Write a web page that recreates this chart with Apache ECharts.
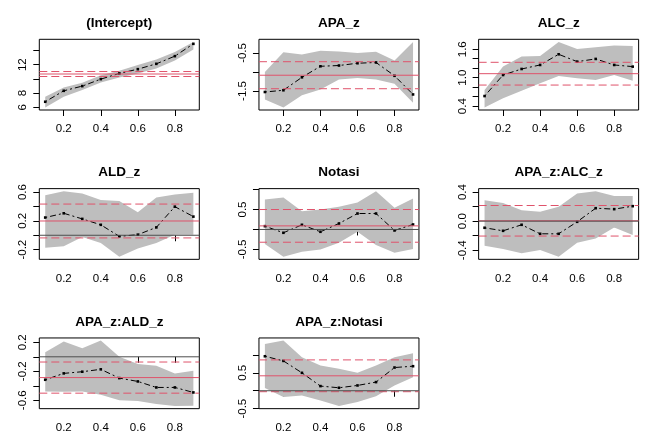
<!DOCTYPE html>
<html><head><meta charset="utf-8">
<script src="https://cdn.jsdelivr.net/npm/echarts@6/dist/echarts.min.js"></script>
<style>html,body{margin:0;padding:0;background:#fff}#c{width:659px;height:448px}</style>
</head><body><div id="c"></div>
<script>
// ---------- DATA ----------
const taus = [0.1, 0.2, 0.3, 0.4, 0.5, 0.6, 0.7, 0.8, 0.9];
const xTicks = [0.2, 0.4, 0.6, 0.8];
const titles = ["(Intercept)", "APA_z", "ALC_z", "ALD_z", "Notasi", "APA_z:ALC_z", "APA_z:ALD_z", "APA_z:Notasi"];

const estIntercept = [6.79, 8.33, 8.99, 9.97, 10.77, 11.37, 12.12, 13.2, 14.93];
const lowIntercept = [6.0, 7.5, 8.43, 9.5, 10.2, 10.77, 11.47, 12.6, 14.14];
const upIntercept  = [7.49, 8.8, 9.45, 10.53, 11.14, 11.94, 12.74, 13.8, 15.2];

const estAPA = [-1.526, -1.48, -1.14, -0.85, -0.83, -0.77, -0.75, -1.1, -1.59];
const lowAPA = [-1.72, -1.93, -1.61, -1.46, -1.2, -1.16, -1.2, -1.31, -1.81];
const upAPA  = [-1.0, -0.48, -0.54, -0.44, -0.46, -0.5, -0.47, -0.7, -0.21];

const estALC = [0.613, 1.057, 1.184, 1.269, 1.494, 1.339, 1.396, 1.269, 1.234];
const lowALC = [0.374, 0.564, 0.726, 0.881, 1.036, 0.987, 0.952, 1.057, 0.938];
const upALC  = [0.74, 1.234, 1.445, 1.459, 1.755, 1.607, 1.642, 1.678, 1.67];

const estALD = [0.246, 0.305, 0.227, 0.145, -0.015, 0.008, 0.109, 0.397, 0.259];
const lowALD = [-0.175, -0.152, -0.024, -0.106, -0.298, -0.184, -0.106, 0.008, 0.008];
const upALD  = [0.557, 0.611, 0.579, 0.488, 0.474, 0.319, 0.525, 0.566, 0.589];

const estNotasi = [0.083, -0.083, 0.117, -0.058, 0.15, 0.4, 0.4, -0.025, 0.125];
const lowNotasi = [-0.367, -0.683, -0.558, -0.5, -0.333, -0.058, -0.392, -0.583, -0.492];
const upNotasi  = [0.75, 0.8, 0.458, 0.5, 0.567, 0.675, 0.958, 0.542, 0.775];

const estAPAALC = [-0.091, -0.133, -0.05, -0.174, -0.174, -0.009, 0.178, 0.165, 0.206];
const lowAPAALC = [-0.338, -0.384, -0.443, -0.398, -0.489, -0.297, -0.238, -0.087, -0.192];
const upAPAALC  = [0.288, 0.251, 0.151, 0.128, 0.197, 0.379, 0.411, 0.347, 0.347];

const estAPAALD = [-0.317, -0.229, -0.206, -0.173, -0.294, -0.34, -0.423, -0.423, -0.492];
const lowAPAALD = [-0.479, -0.483, -0.479, -0.525, -0.6, -0.61, -0.65, -0.68, -0.675];
const upAPAALD  = [0.062, 0.21, 0.118, 0.224, 0.002, -0.099, -0.123, -0.229, -0.192];

const estAPANot = [0.963, 0.833, 0.5, 0.13, 0.083, 0.148, 0.241, 0.648, 0.685];
const lowAPANot = [0.074, -0.176, -0.13, -0.269, -0.427, -0.315, -0.157, 0.148, 0.38];
const upAPANot  = [1.306, 1.40, 0.935, 0.704, 0.611, 0.5, 0.704, 0.935, 1.046];

// OLS coefficient and its half confidence width, per panel
const olsCoef = [10.69, -1.085, 1.085, 0.198, 0.09, 0.005, -0.287, 0.417];
const olsHalf = [0.35, 0.355, 0.24, 0.235, 0.41, 0.21, 0.215, 0.444];

// y ticks and which ones carry labels
const yTicks = [
  [6, 8, 10, 12, 14],
  [-1.5, -1.0, -0.5],
  [0.4, 0.6, 0.8, 1.0, 1.2, 1.4, 1.6],
  [-0.2, 0.0, 0.2, 0.4, 0.6],
  [-0.5, 0.0, 0.5, 1.0],
  [-0.4, -0.2, 0.0, 0.2, 0.4],
  [-0.6, -0.4, -0.2, 0.0, 0.2],
  [-0.5, 0.0, 0.5, 1.0]
];
const yLabelVals = [
  [6, 8, 12],
  [-1.5, -0.5],
  [0.4, 1.0, 1.6],
  [-0.2, 0.2, 0.6],
  [-0.5, 0.5],
  [-0.4, 0.0, 0.4],
  [-0.6, -0.2, 0.2],
  [-0.5, 0.5]
];
const yLabelDigits = [0, 1, 1, 1, 1, 1, 1, 1];

// ---------- BUILD ----------
const ests = [estIntercept, estAPA, estALC, estALD, estNotasi, estAPAALC, estAPAALD, estAPANot];
const lows = [lowIntercept, lowAPA, lowALC, lowALD, lowNotasi, lowAPAALC, lowAPAALD, lowAPANot];
const ups  = [upIntercept, upAPA, upALC, upALD, upNotasi, upAPAALC, upAPAALD, upAPANot];

const RED = '#DF536B', GRAY = '#BEBEBE', ZERO = '#4D4D4D';
const FONT = 'Liberation Sans, Arial, sans-serif';
const cellW = 659 / 3, cellH = 448 / 3;
const boxL = 39.3, boxT = 39.3, boxW = 160, boxH = 70.7;

const tMin = Math.min(...taus), tMax = Math.max(...taus);
const xPad = (tMax - tMin) * 0.04;
const xMin = tMin - xPad, xMax = tMax + xPad;

const grids = [], xAxes = [], yAxes = [], series = [], graphics = [];

titles.forEach((title, i) => {
  const r = Math.floor(i / 3), c = i % 3;
  const left = c * cellW + boxL, top = r * cellH + boxT;
  grids.push({ left: left, top: top, width: boxW, height: boxH, show: true,
    borderColor: '#000', borderWidth: 1, backgroundColor: 'transparent', containLabel: false });

  const all = ests[i].concat(lows[i], ups[i]);
  const lo = Math.min(...all), hi = Math.max(...all);
  const pad = (hi - lo) * 0.04;

  xAxes.push({ type: 'value', gridIndex: i, min: xMin, max: xMax,
    axisLine: { show: false }, splitLine: { show: false },
    axisTick: { show: true, inside: false, length: 6, customValues: xTicks, lineStyle: { color: '#000', width: 1 } },
    axisLabel: { show: true, customValues: xTicks, margin: 13, color: '#000', fontSize: 11.5, fontFamily: FONT,
      formatter: v => v.toFixed(1) } });

  const dig = yLabelDigits[i];
  yAxes.push({ type: 'value', gridIndex: i, min: lo - pad, max: hi + pad,
    axisLine: { show: false }, splitLine: { show: false },
    axisTick: { show: true, inside: false, length: 6, customValues: yTicks[i], lineStyle: { color: '#000', width: 1 } },
    axisLabel: { show: true, customValues: yLabelVals[i], rotate: 90, margin: 10, color: '#000', fontSize: 11.5, fontFamily: FONT,
      formatter: v => v.toFixed(dig) } });

  // confidence band polygon
  const lw = lows[i], upv = ups[i];
  series.push({ type: 'custom', xAxisIndex: i, yAxisIndex: i, silent: true, z: 1,
    data: [[taus[0], lw[0]]],
    renderItem: (params, api) => {
      const pts = [];
      taus.forEach((t, k) => pts.push(api.coord([t, lw[k]])));
      for (let k = taus.length - 1; k >= 0; k--) pts.push(api.coord([taus[k], upv[k]]));
      return { type: 'polygon', shape: { points: pts }, style: { fill: GRAY, stroke: null } };
    } });

  // estimates: dot-dash line with points
  series.push({ type: 'line', xAxisIndex: i, yAxisIndex: i, silent: true, z: 2,
    data: taus.map((t, k) => [t, ests[i][k]]),
    showSymbol: true, symbol: 'rect', symbolSize: 2.6,
    itemStyle: { color: '#000' },
    lineStyle: { color: '#000', width: 1, type: [2, 3, 6, 3] } });

  // OLS lines
  const hl = (v, color, type, z) => ({ type: 'line', xAxisIndex: i, yAxisIndex: i, silent: true, z: z,
    data: [[xMin, v], [xMax, v]], showSymbol: false, clip: true,
    lineStyle: { color: color, width: 1, type: type } });
  series.push(hl(olsCoef[i], RED, 'solid', 3));
  series.push(hl(olsCoef[i] - olsHalf[i], RED, [8, 4], 3));
  series.push(hl(olsCoef[i] + olsHalf[i], RED, [8, 4], 3));
  series.push(hl(0, ZERO, 'solid', 4));

  graphics.push({ type: 'text', x: left + boxW / 2, y: top - 16,
    style: { text: title, textAlign: 'center', textVerticalAlign: 'middle',
      font: 'bold 13.5px ' + FONT, fill: '#000' } });
});

const chart = echarts.init(document.getElementById('c'), null, { renderer: 'canvas' });
chart.setOption({ animation: false, backgroundColor: '#fff',
  grid: grids, xAxis: xAxes, yAxis: yAxes, series: series, graphic: graphics });
</script></body></html>
